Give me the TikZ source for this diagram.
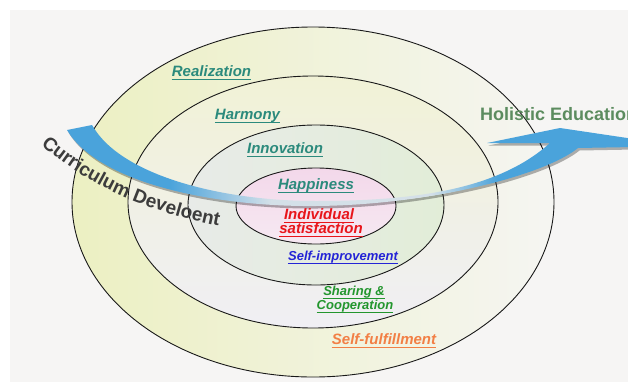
\documentclass[tikz,border=0pt]{standalone}
\usepackage{fontspec}
\setsansfont{Liberation Sans}
\usetikzlibrary{decorations.text}
\definecolor{bgc}{HTML}{F6F5F4}
\definecolor{ringAl}{HTML}{ECF0C2}
\definecolor{ringAr}{HTML}{F5F5F2}
\definecolor{ringBt}{HTML}{F1F2D6}
\definecolor{ringBb}{HTML}{F0EFF4}
\definecolor{ringCl}{HTML}{E8EBE8}
\definecolor{ringCr}{HTML}{E2EDD8}
\definecolor{ringDt}{HTML}{F3D8EA}
\definecolor{ringDb}{HTML}{F6E9F2}
\definecolor{arrblue}{HTML}{4AA3DB}
\definecolor{arrlight}{HTML}{D4E0E8}
\definecolor{teal}{HTML}{2B8A7C}
\definecolor{lred}{HTML}{E8151B}
\definecolor{lblue}{HTML}{2424D6}
\definecolor{lgreen}{HTML}{23962E}
\definecolor{lorange}{HTML}{F27F45}
\definecolor{holc}{HTML}{5C8C5F}
\definecolor{curtext}{HTML}{3C3C3C}
\pgfdeclarehorizontalshading{arrowshade}{100bp}{color(0bp)=(arrblue); color(34bp)=(arrblue); color(43bp)=(arrlight); color(57bp)=(arrlight); color(63bp)=(arrblue); color(100bp)=(arrblue)}
\newcommand\ullabel[6]{%
  \node[lab, text=#2, font=\sffamily\bfseries\itshape\fontsize{#3}{#3}\selectfont, anchor=base] (#1) at (#4,#5) {#6};
  \draw[#2, line width=1.2pt] ([yshift=-3.5pt]#1.base west) -- ([yshift=-3.5pt]#1.base east);
}
\newcommand\arrowpath{(67,130) .. controls (100,185) and (220,207) .. (316,206) .. controls (430,205) and (545,175) .. (578,148) -- (634,147) -- (634,139) -- (560,128) -- (487,143) -- (550,143) .. controls (500,188) and (420,201) .. (316,201) .. controls (220,201) and (120,175) .. (92,125) -- cycle}
\begin{document}
\begin{tikzpicture}[x=1pt,y=-1pt,
  lab/.style={inner sep=0pt},
  ring/.style={draw=black!90, line width=0.9pt}]
\useasboundingbox (0,0) rectangle (628,383);
\clip (0,0) rectangle (628,383);
\fill[white] (0,0) rectangle (628,383);
\fill[bgc] (10,10) rectangle (628,382);
% rings
\shade[left color=ringAl, right color=ringAr] (313,202) ellipse [x radius=241, y radius=175];
\shade[top color=ringBt, bottom color=ringBb] (313,202) ellipse [x radius=185, y radius=126];
\shade[left color=ringCl, right color=ringCr] (316,205) ellipse [x radius=128, y radius=80];
\shade[top color=ringDt, bottom color=ringDb] (316,206) ellipse [x radius=80, y radius=38];
\draw[ring] (313,202) ellipse [x radius=241, y radius=175];
\draw[ring] (313,202) ellipse [x radius=185, y radius=126];
\draw[ring] (316,205) ellipse [x radius=128, y radius=80];
\draw[ring] (316,206) ellipse [x radius=80, y radius=38];
% curved text
\path[decorate, decoration={text along path, text color=curtext,
  text={|\sffamily\bfseries\fontsize{19}{19}\selectfont|Curriculum Develoent}}]
  (41,145) .. controls (85,182) and (140,213) .. (240,230);
% arrow
\fill[black, opacity=0.3, shift={(1.5,2.5)}] \arrowpath;
\shade[shading=arrowshade] \arrowpath;
% Holistic Education
\node[anchor=base west, inner sep=0pt, text=holc, font=\sffamily\bfseries\fontsize{18}{18}\selectfont] (hol) at (480,120) {Holistic Education};
% labels
\ullabel{real}{teal}{15}{211.5}{76}{Realization}
\ullabel{harm}{teal}{15}{247.5}{119}{Harmony}
\ullabel{inno}{teal}{15}{285}{153}{Innovation}
\ullabel{happ}{teal}{15}{316}{189}{Happiness}
\ullabel{indi}{lred}{15}{319}{219}{Individual}
\ullabel{sati}{lred}{15}{321}{233}{satisfaction}
\ullabel{simp}{lblue}{13}{343}{260}{Self-improvement}
\ullabel{shar}{lgreen}{13}{354}{295}{Sharing \&}
\ullabel{coop}{lgreen}{13}{355}{309}{Cooperation}
\ullabel{sful}{lorange}{15}{384}{344}{Self-fulfillment}
\end{tikzpicture}
\end{document}
